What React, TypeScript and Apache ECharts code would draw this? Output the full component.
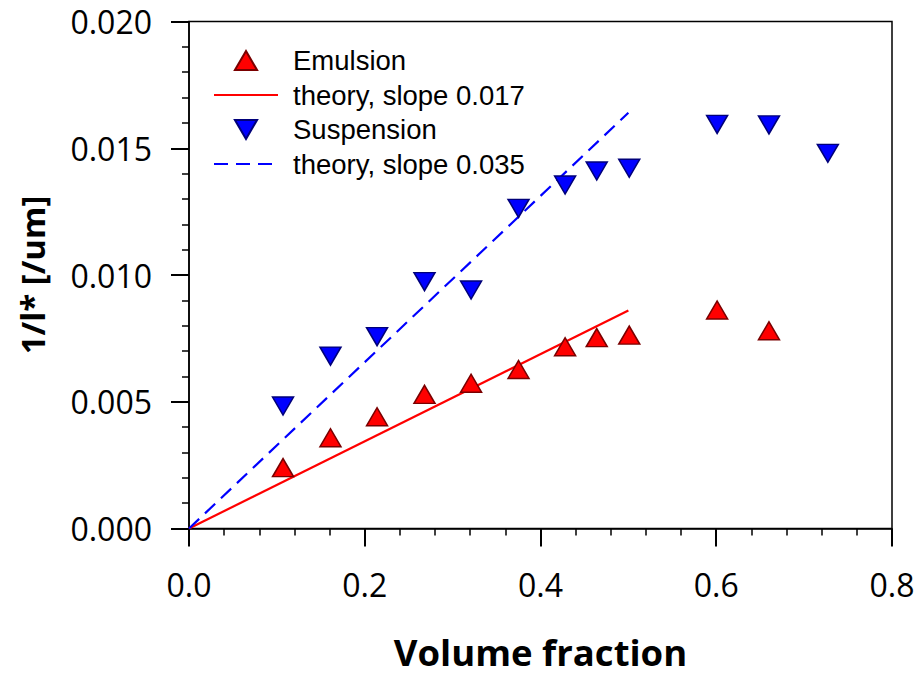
import React, { useEffect, useRef } from "react";
import * as echarts from "echarts";

const xEmulsion = [0.107, 0.161, 0.214, 0.268, 0.321, 0.375, 0.428, 0.464, 0.501, 0.601, 0.66];
const yEmulsion = [0.0024, 0.00358, 0.00441, 0.00529, 0.00573, 0.00627, 0.00717, 0.00753, 0.00763, 0.00862, 0.0078];
const xSuspension = [0.107, 0.161, 0.214, 0.268, 0.321, 0.375, 0.428, 0.464, 0.501, 0.601, 0.66, 0.727];
const ySuspension = [0.00483, 0.0068, 0.00757, 0.00974, 0.00941, 0.01263, 0.01355, 0.0141, 0.01421, 0.01594, 0.01592, 0.0148];
const theoryX = [0, 0.5];
const theoryEmulsionY = [0, 0.0086];
const theorySuspensionY = [0, 0.0164];

const seriesNames = ["Emulsion", "theory, slope 0.017", "Suspension", "theory, slope 0.035"];

const UP = "path://M10.5,0 L21,18 L0,18 Z";
const DOWN = "path://M0,0 L21,0 L10.5,18 Z";

const zip = (xs: number[], ys: number[]) => xs.map((x, i) => [x, ys[i]]);

export default function App() {
  const ref = useRef<HTMLDivElement>(null);
  useEffect(() => {
    document.body.style.margin = "0";
    const chart = echarts.init(ref.current!, undefined, { renderer: "svg" });
    const axisCommon = {
      axisLine: { show: true, onZero: false, lineStyle: { color: "#000", width: 1.5 } },
      axisTick: { show: true, inside: false, length: 18, lineStyle: { color: "#000", width: 2 } },
      minorTick: { show: true, splitNumber: 5, length: 7, lineStyle: { color: "#000", width: 1.5 } },
      splitLine: { show: false },
      minorSplitLine: { show: false },
    };
    chart.setOption({
      animation: false,
      backgroundColor: "#fff",
      grid: {
        left: 189,
        right: 29,
        top: 21.5,
        bottom: 148.5,
        show: true,
        borderColor: "#000",
        borderWidth: 1.5,
        backgroundColor: "transparent",
      },
      legend: {
        orient: "vertical",
        left: 208,
        top: 41.5,
        itemWidth: 64,
        itemHeight: 19,
        itemGap: 6.5,
        symbolKeepAspect: true,
        textStyle: {
          fontFamily: "Liberation Sans",
          fontSize: 27.5,
          lineHeight: 27,
          color: "#000",
          padding: [0, 0, 0, 10],
        },
        data: [
          { name: seriesNames[0] },
          { name: seriesNames[1], itemStyle: { opacity: 0 } },
          { name: seriesNames[2] },
          { name: seriesNames[3], itemStyle: { opacity: 0 } },
        ],
      },
      xAxis: {
        type: "value",
        min: 0,
        max: 0.8,
        interval: 0.2,
        ...axisCommon,
        axisLabel: {
          margin: 40,
          fontFamily: "Open Sans",
          fontSize: 32,
          color: "#000",
          formatter: (v: number) => v.toFixed(1),
        },
        name: "Volume fraction",
        nameLocation: "middle",
        nameGap: 106,
        nameTextStyle: { fontFamily: "Open Sans", fontWeight: "bold", fontSize: 36.5, lineHeight: 34, color: "#000" },
      },
      yAxis: {
        type: "value",
        min: 0,
        max: 0.02,
        interval: 0.005,
        ...axisCommon,
        axisLabel: {
          margin: 37,
          fontFamily: "Open Sans",
          fontSize: 32,
          color: "#000",
          formatter: (v: number) => v.toFixed(3),
        },
        name: "1/l* [/um]",
        nameLocation: "middle",
        nameGap: 140,
        nameTextStyle: {
          fontFamily: "Open Sans",
          fontWeight: "bold",
          fontSize: 33,
          color: "#000",
        },
      },
      series: [
        {
          name: seriesNames[0],
          type: "scatter",
          data: zip(xEmulsion, yEmulsion),
          symbol: UP,
          symbolSize: [21, 18],
          itemStyle: { color: "#ff0000", borderColor: "#7a0000", borderWidth: 1.5, opacity: 1 },
          z: 5,
        },
        {
          name: seriesNames[1],
          type: "line",
          data: zip(theoryX, theoryEmulsionY),
          symbol: "none",
          lineStyle: { color: "#ff0000", width: 2.2 },
          itemStyle: { color: "#ff0000" },
          z: 3,
        },
        {
          name: seriesNames[2],
          type: "scatter",
          data: zip(xSuspension, ySuspension),
          symbol: DOWN,
          symbolSize: [21, 18],
          itemStyle: { color: "#0000ff", borderColor: "#00007a", borderWidth: 1.5, opacity: 1 },
          z: 5,
        },
        {
          name: seriesNames[3],
          type: "line",
          data: zip(theoryX, theorySuspensionY),
          symbol: "none",
          lineStyle: { color: "#0000ff", width: 2.2, type: [14, 8] },
          itemStyle: { color: "#0000ff" },
          z: 3,
        },
      ],
    });
    return () => chart.dispose();
  }, []);
  return <div ref={ref} style={{ width: 921, height: 677 }} />;
}
